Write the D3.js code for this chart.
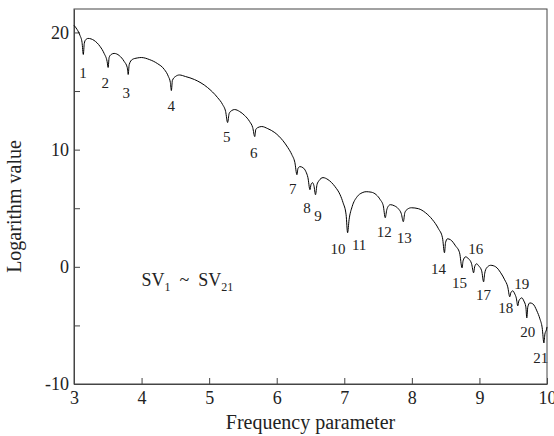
<!DOCTYPE html>
<html lang="en">
<head>
	<meta charset="UTF-8">
	<title>SV logarithm vs frequency</title>
	<script src="https://d3js.org/d3.v7.min.js"></script>
	<style type="text/css">
		body { margin: 0; background: #fff; }
		svg text { font-family: "Liberation Serif", "Times New Roman", serif; fill: #222; }
		.axis path, .axis line { stroke: #444; }
		.frame { fill: none; stroke: #444; stroke-width: 1; }
		.curve { fill: none; stroke: #000; stroke-width: 1; }
	</style>
</head>
<body>
<script type="text/javascript">

	// frequency parameter (x) and logarithm value (y), arc by arc
	var freqX = [
		3.000, 3.045, 3.089, 3.119, 3.138,
		3.152, 3.171, 3.208, 3.297, 3.386, 3.446, 3.490, 3.505,
		3.520, 3.550, 3.594, 3.669, 3.743, 3.788, 3.802,
		3.817, 3.862, 3.936, 3.996, 4.114, 4.233, 4.337, 4.397, 4.426, 4.441,
		4.456, 4.501, 4.560, 4.649, 4.783, 4.976, 5.125, 5.199, 5.244, 5.273,
		5.296, 5.333, 5.377, 5.452, 5.526, 5.600, 5.645, 5.675,
		5.690, 5.719, 5.779, 5.868, 5.972, 6.091, 6.165, 6.224, 6.269, 6.299,
		6.314, 6.343, 6.388, 6.432, 6.462, 6.492,
		6.507, 6.529, 6.551, 6.574,
		6.596, 6.626, 6.685, 6.759, 6.863, 6.938, 6.982, 7.027, 7.049,
		7.071, 7.116, 7.190, 7.264, 7.324, 7.398, 7.473, 7.532, 7.577, 7.606,
		7.629, 7.651, 7.681, 7.740, 7.799, 7.844, 7.874,
		7.896, 7.933, 7.993, 8.097, 8.201, 8.305, 8.394, 8.453, 8.483,
		8.498, 8.527, 8.572, 8.646, 8.706, 8.743,
		8.758, 8.795, 8.840, 8.884, 8.914,
		8.929, 8.958, 8.988, 9.033, 9.062,
		9.077, 9.107, 9.166, 9.241, 9.315, 9.374, 9.419, 9.449,
		9.464, 9.493, 9.523, 9.545, 9.568,
		9.583, 9.627, 9.657, 9.687, 9.701,
		9.716, 9.746, 9.790, 9.850, 9.895, 9.929, 9.954,
		9.969, 9.991, 10.000
	];
	var logVal = [
		20.60, 20.26, 19.74, 19.15, 18.12,
		19.06, 19.36, 19.49, 19.32, 18.80, 18.21, 17.52, 17.01,
		17.86, 18.12, 18.21, 18.03, 17.52, 17.01, 16.41,
		17.26, 17.69, 17.82, 17.86, 17.69, 17.35, 16.84, 16.24, 15.73, 15.04,
		15.90, 16.24, 16.37, 16.24, 15.98, 15.30, 14.44, 13.85, 13.25, 12.31,
		13.08, 13.33, 13.42, 13.25, 12.91, 12.39, 11.88, 11.11,
		11.71, 11.88, 11.97, 11.79, 11.45, 10.77, 10.17, 9.57, 8.89, 7.86,
		8.38, 8.55, 8.46, 8.12, 7.61, 6.58,
		7.01, 7.18, 6.92, 6.15,
		7.01, 7.35, 7.61, 7.44, 6.84, 6.15, 5.47, 4.44, 2.91,
		4.02, 5.13, 5.98, 6.32, 6.41, 6.37, 6.15, 5.73, 5.21, 4.19,
		4.87, 5.17, 5.30, 5.21, 4.96, 4.53, 3.85,
		4.62, 4.91, 5.04, 4.96, 4.62, 4.02, 3.25, 2.48, 1.20,
		2.05, 2.39, 2.31, 1.79, 1.20, -0.09,
		0.51, 0.85, 0.68, 0.26, -0.51,
		0.00, 0.26, 0.09, -0.34, -1.28,
		-0.60, -0.09, 0.13, 0.00, -0.51, -1.11, -1.71, -2.56,
		-2.22, -2.05, -2.31, -2.65, -3.33,
		-2.91, -2.65, -2.91, -3.42, -4.36,
		-3.42, -3.08, -3.16, -3.76, -4.44, -5.21, -6.50,
		-5.73, -5.38, -5.13
	];

	// SV numbers and where their labels sit (data units)
	var svNo   = [1, 2, 3, 4, 5, 6, 7, 8, 9, 10, 11, 12, 13, 14, 15, 16, 17, 18, 19, 20, 21];
	var svLabX = [3.134, 3.461, 3.773, 4.441, 5.259, 5.660, 6.239, 6.447, 6.611, 6.908, 7.220,
		7.591, 7.889, 8.394, 8.706, 8.944, 9.062, 9.389, 9.627, 9.716, 9.909];
	var svLabY = [16.58, 15.73, 14.87, 13.76, 11.11, 9.74, 6.67, 5.04, 4.36, 1.54, 1.88,
		2.99, 2.48, -0.17, -1.37, 1.54, -2.39, -3.50, -1.45, -5.56, -7.78];

	var xTicks = [3, 4, 5, 6, 7, 8, 9, 10];
	var yTicks = [-10, -5, 0, 5, 10, 15, 20];
	var yTickLabels = [-10, 0, 10, 20];

	var margin = {top: 9, left: 74, bottom: 52, right: 7};
	var W = 554, H = 436;
	var width = W - margin.left - margin.right;
	var height = H - margin.top - margin.bottom;

	var svg = d3.select('body').append('svg')
		.attr('width', W)
		.attr('height', H)
		.append('g')
		.attr('transform', 'translate(' + margin.left + ',' + margin.top + ')');

	var x = d3.scaleLinear().domain([3, 10]).range([0, width]);
	var y = d3.scaleLinear().domain([-10, 22]).range([height, 0]);

	// frame
	svg.append('rect')
		.attr('class', 'frame')
		.attr('x', 0).attr('y', 0)
		.attr('width', width).attr('height', height);

	// axes, ticks pointing inside
	svg.append('g')
		.attr('class', 'axis')
		.attr('transform', 'translate(0,' + height + ')')
		.call(d3.axisBottom(x).tickValues(xTicks).tickSize(-6).tickSizeOuter(0).tickPadding(4)
			.tickFormat(d3.format('d')))
		.selectAll('text')
		.attr('dy', '0.9em')
		.style('font-size', '18px');

	svg.append('g')
		.attr('class', 'axis')
		.call(d3.axisLeft(y).tickValues(yTicks).tickSize(-6).tickSizeOuter(0).tickPadding(5)
			.tickFormat(function (d) { return yTickLabels.indexOf(d) >= 0 ? d : ''; }))
		.selectAll('text')
		.style('font-size', '18px');

	// curve
	var pts = freqX.map(function (d, i) { return [d, logVal[i]]; });
	var line = d3.line()
		.x(function (d) { return x(d[0]); })
		.y(function (d) { return y(d[1]); })
		.curve(d3.curveMonotoneX);

	svg.append('path')
		.datum(pts)
		.attr('class', 'curve')
		.attr('d', line);

	// SV labels
	svg.selectAll('.svlab')
		.data(svNo)
		.enter().append('text')
		.attr('class', 'svlab')
		.attr('x', function (d, i) { return x(svLabX[i]); })
		.attr('y', function (d, i) { return y(svLabY[i]); })
		.attr('dy', '0.35em')
		.style('text-anchor', 'middle')
		.style('font-size', '15px')
		.text(function (d) { return d; });

	// SV1 ~ SV21 note
	var note = svg.append('text')
		.attr('x', x(4.0))
		.attr('y', y(-1.6))
		.style('font-size', '18px');
	note.append('tspan').text('SV');
	note.append('tspan').attr('dy', 5).style('font-size', '12px').text('1');
	note.append('tspan').attr('dy', -5).attr('dx', 9).text('~');
	note.append('tspan').attr('dx', 9).text('SV');
	note.append('tspan').attr('dy', 5).style('font-size', '12px').text('21');

	// axis titles
	svg.append('text')
		.attr('x', width / 2)
		.attr('y', height + 45)
		.style('text-anchor', 'middle')
		.style('font-size', '20px')
		.text('Frequency parameter');

	svg.append('text')
		.attr('transform', 'rotate(-90)')
		.attr('x', -height / 2 - 10)
		.attr('y', -53)
		.style('text-anchor', 'middle')
		.style('font-size', '20px')
		.text('Logarithm value');

</script>
</body>
</html>
